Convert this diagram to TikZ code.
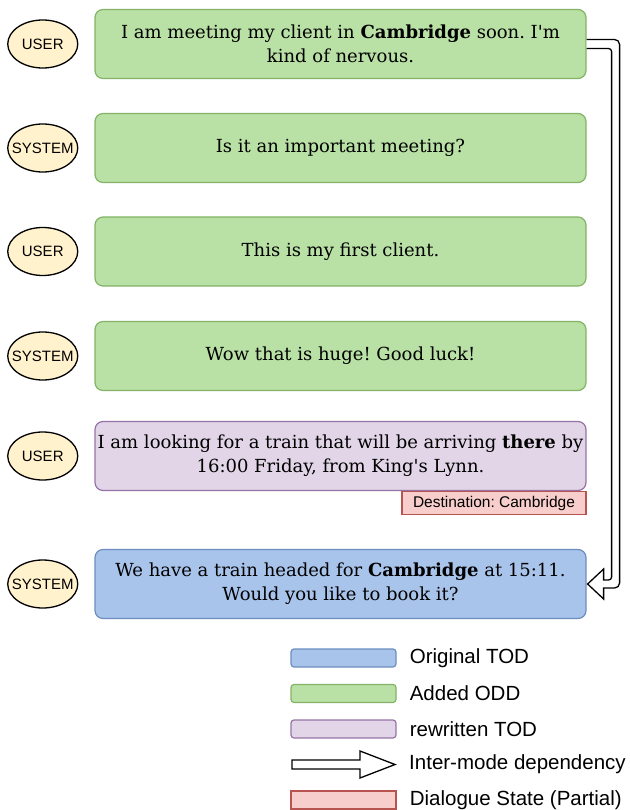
\documentclass[tikz,border=0pt]{standalone}
\usepackage{fontspec}
\usepackage{tikz}
\usetikzlibrary{positioning,calc,shapes.geometric}
\setmainfont{DejaVu Serif}
\newfontfamily\labelfont{Liberation Sans}
\frenchspacing

\definecolor{oddfill}{HTML}{B9E0A5}
\definecolor{oddline}{HTML}{82B366}
\definecolor{todfill}{HTML}{A9C4EB}
\definecolor{todline}{HTML}{6C8EBF}
\definecolor{rewfill}{HTML}{E1D5E7}
\definecolor{rewline}{HTML}{9673A6}
\definecolor{statefill}{HTML}{F8CECC}
\definecolor{stateline}{HTML}{B85450}
\definecolor{spkfill}{HTML}{FFF2CC}

\tikzset{
    % dialogue turn boxes
    turn/.style={
           rectangle,
           rounded corners=8pt,
           line width=1.2pt,
           inner xsep=0.5pt,
           minimum width=491pt,
           minimum height=69pt,
           align=center,
           font=\fontsize{18}{24}\selectfont},
    odd/.style={turn, draw=oddline, fill=oddfill},
    tod/.style={turn, draw=todline, fill=todfill},
    rew/.style={turn, draw=rewline, fill=rewfill},
    % speaker ellipses
    speaker/.style={
           ellipse,
           draw,
           line width=1.3pt,
           fill=spkfill,
           minimum width=70pt,
           minimum height=48pt,
           inner sep=0pt,
           font=\labelfont\fontsize{15}{17}\selectfont},
    % dialogue state
    state/.style={
           rectangle,
           draw=stateline,
           fill=statefill,
           line width=1.2pt,
           minimum width=184pt,
           minimum height=23pt,
           inner sep=0pt,
           font=\labelfont\fontsize{15.5}{17}\selectfont},
    % hollow dependency arrow
    dep/.style={
           draw,
           line width=1.3pt,
           fill=white,
           line join=miter},
    % legend
    legbox/.style={
           rectangle,
           rounded corners=3pt,
           line width=1.2pt,
           minimum width=105pt,
           minimum height=18pt,
           inner sep=0pt},
    legtext/.style={
           inner sep=0pt,
           right=13pt of #1,
           font=\labelfont\fontsize{20.5}{22}\selectfont}
}
\newcommand{\spkname}[1]{\makebox[0pt]{#1}}

\begin{document}
\begin{tikzpicture}[x=1pt, y=1pt, node distance=104pt]
	\useasboundingbox (0,0) rectangle (629,-810);

	% turns
	\node[odd] (turn1) at (340.5,-44) {I am meeting my client in \textbf{Cambridge} soon. I\textquotesingle m\\kind of nervous.};
	\node[odd, below of= turn1] (turn2) {Is it an important meeting?};
	\node[odd, below of= turn2, yshift=0.5pt] (turn3) {This is my first client.};
	\node[odd, below of= turn3, yshift=-0.5pt] (turn4) {Wow that is huge! Good luck!};
	\node[rew, below of= turn4, yshift=4pt] (turn5) {I am looking for a train that will be arriving \textbf{there} by\\16:00 Friday, from King\textquotesingle s Lynn.};
	\node[tod, below of= turn5, yshift=-24pt] (turn6) {We have a train headed for \textbf{Cambridge} at 15:11.\\Would you like to book it?};

	% speakers
	\node[speaker, left=16pt of turn1] (spk1) {\spkname{USER}};
	\node[speaker, left=16pt of turn2] (spk2) {\spkname{SYSTEM}};
	\node[speaker, left=16pt of turn3] (spk3) {\spkname{USER}};
	\node[speaker, left=16pt of turn4] (spk4) {\spkname{SYSTEM}};
	\node[speaker, left=16pt of turn5] (spk5) {\spkname{USER}};
	\node[speaker, left=16pt of turn6] (spk6) {\spkname{SYSTEM}};

	% dialogue state
	\node[state, anchor=north east] (state5) at (turn5.south east) {Destination: Cambridge};

	% inter-mode dependency
	\coordinate (dep-out) at ($(turn1.east)+(33,0)$);
	\coordinate (dep-in) at ($(turn1.east)+(25,0)$);
	\coordinate (dep-low) at ($(turn6.east)+(0,-4)$);
	\coordinate (dep-high) at ($(turn6.east)+(0,4)$);
	\path[dep] ($(turn1.east)+(0,4.5)$) [rounded corners=5pt]
	        -- ($(dep-out)+(0,4.5)$)
	        -- (dep-out |- dep-low) [sharp corners]
	        -- ($(turn6.east)+(17,-4)$)
	        -- ($(turn6.east)+(17,-15)$)
	        -- ($(turn6.east)+(1,0)$)
	        -- ($(turn6.east)+(17,15)$)
	        -- ($(turn6.east)+(17,4)$) [rounded corners=3pt]
	        -- (dep-in |- dep-high)
	        -- ($(dep-in)+(0,-4.5)$) [sharp corners]
	        -- ($(turn1.east)+(0,-4.5)$);

	% legend
	\begin{scope}[node distance=35.5pt]
	\node[legbox, draw=todline, fill=todfill] (leg-tod) at (343.5,-658) {};
	\node[legbox, draw=oddline, fill=oddfill, below of= leg-tod] (leg-odd) {};
	\node[legbox, draw=rewline, fill=rewfill, below of= leg-odd] (leg-rew) {};
	\coordinate[below of= leg-rew] (leg-dep);
	\node[legbox, rounded corners=0pt, draw=stateline, fill=statefill, below of= leg-dep] (leg-state) {};
	\end{scope}

	\path[dep] ($(leg-dep)+(-51.5,4.5)$) -- ($(leg-dep)+(16.5,4.5)$)
	        -- ($(leg-dep)+(16.5,13.5)$) -- ($(leg-dep)+(51.5,0)$)
	        -- ($(leg-dep)+(16.5,-13.5)$) -- ($(leg-dep)+(16.5,-4.5)$)
	        -- ($(leg-dep)+(-51.5,-4.5)$) -- cycle;

	\node[legtext=leg-tod, anchor=west] (txt-tod) {Original TOD};
	\node[legtext=leg-odd, anchor=west] (txt-odd) {Added ODD};
	\node[legtext=leg-rew, anchor=west] (txt-rew) {rewritten TOD};
	\node[anchor=west, inner sep=0pt, font=\labelfont\fontsize{20.5}{22}\selectfont] (txt-dep) at ($(leg-dep)+(65.5,0)$) {Inter-mode dependency};
	\node[legtext=leg-state, anchor=west] (txt-state) {Dialogue State (Partial)};
\end{tikzpicture}
\end{document}
